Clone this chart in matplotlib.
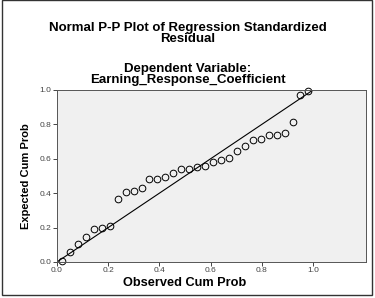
import numpy as np
import matplotlib
matplotlib.use("Agg")
from matplotlib import pyplot as plt
from matplotlib.patches import Rectangle

plt.rcParams['font.family'] = ['Liberation Sans', 'DejaVu Sans']

observed = [0.021, 0.051, 0.082, 0.113, 0.145, 0.176, 0.207, 0.237, 0.268, 0.300,
            0.331, 0.361, 0.392, 0.423, 0.454, 0.486, 0.517, 0.548, 0.579, 0.611,
            0.641, 0.672, 0.703, 0.734, 0.764, 0.796, 0.827, 0.858, 0.889, 0.920,
            0.950, 0.980]
expected = [0.006, 0.058, 0.106, 0.145, 0.194, 0.200, 0.209, 0.364, 0.405, 0.413,
            0.432, 0.481, 0.481, 0.494, 0.519, 0.542, 0.542, 0.550, 0.560, 0.581,
            0.591, 0.603, 0.645, 0.674, 0.707, 0.713, 0.738, 0.738, 0.748, 0.812,
            0.973, 0.994]
ticks = [0.0, 0.2, 0.4, 0.6, 0.8, 1.0]

fig = plt.figure(figsize=(3.75, 2.98), dpi=100)
ax = fig.add_axes([0.152, 0.121, 0.824, 0.577])
ax.set_facecolor("#f0f0f0")

ax.plot([0, 1], [0, 1], color="black", lw=0.8)
ax.plot(observed, expected, 'o', mfc="none", mec="black", ms=4.8, mew=0.7, clip_on=False)

ax.set_xlim(0, 1.207)
ax.set_ylim(0, 1.0)
ax.set_xticks(ticks)
ax.set_yticks(ticks)
ax.set_xticklabels([f"{t:.1f}" for t in ticks])
ax.set_yticklabels([f"{t:.1f}" for t in ticks])
ax.tick_params(labelsize=6, colors="#444444", length=3, width=0.7, pad=1)
for s in ax.spines.values():
    s.set_color("#555555")
    s.set_linewidth(0.7)

ax.set_ylabel("Expected Cum Prob", fontsize=8, fontweight="bold", labelpad=6)
fig.text(0.493, 0.05, "Observed Cum Prob", ha="center", va="center",
         fontsize=9.2, fontweight="bold")

fig.text(0.5, 0.888, "Normal P-P Plot of Regression Standardized\nResidual",
         ha="center", va="center", fontsize=9.5, fontweight="bold", linespacing=0.9)
fig.text(0.5, 0.75, "Dependent Variable:\nEarning_Response_Coefficient",
         ha="center", va="center", fontsize=9.5, fontweight="bold", linespacing=0.9)

fig.patches.append(Rectangle((0.006, 0.01), 0.986, 0.99, transform=fig.transFigure,
                             fill=False, edgecolor="#333333", lw=1.0))

plt.savefig("out.png", dpi=100)
